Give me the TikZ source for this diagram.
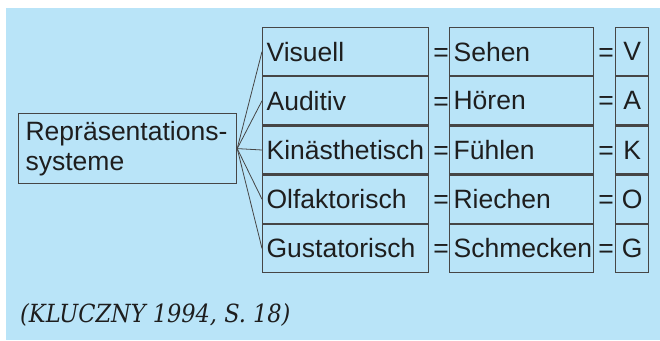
\documentclass[tikz,border=0pt]{standalone}
\usepackage{fontspec}
\setmainfont{Liberation Sans}
\newfontfamily\citefont{DejaVu Serif Condensed}
\usetikzlibrary{positioning}

\definecolor{bgblue}{RGB}{185,228,248}
\definecolor{boxline}{RGB}{70,70,70}
\definecolor{textdark}{RGB}{30,30,30}

\begin{document}
\begin{tikzpicture}[
    x=1pt, y=-1pt,
    every node/.style={font=\fontsize{26.5}{30}\selectfont, text=textdark},
    sysbox/.style={draw=boxline, line width=1.2pt, minimum width=166pt, minimum height=48pt, inner sep=4pt, text width=158pt, align=left},
    sinnbox/.style={draw=boxline, line width=1.2pt, minimum width=144pt, minimum height=48pt, inner sep=4pt, text width=136pt, align=left},
    kurzbox/.style={draw=boxline, line width=1.2pt, minimum width=33pt, minimum height=48pt, inner sep=0pt, align=center},
    eqsign/.style={inner sep=0pt, anchor=base west}
]

% Background
\useasboundingbox (0,0) rectangle (660,340);
\fill[bgblue] (6,8) rectangle (660,340);

% Root box
\node[draw=boxline, line width=1.2pt, anchor=north west, minimum width=218pt, minimum height=70pt,
      text width=204pt, inner sep=7pt, align=left] (rep) at (18,113) {Repräsentations-\\systeme};

% Column 1: systems
\node[sysbox, anchor=north west] (s1) at (262,27) {Visuell};
\node[sysbox, below=0pt of s1] (s2) {Auditiv};
\node[sysbox, below=0pt of s2] (s3) {Kinästhetisch};
\node[sysbox, below=0pt of s3] (s4) {Olfaktorisch};
\node[sysbox, below=0pt of s4] (s5) {Gustatorisch};

% Column 2: senses
\node[sinnbox, anchor=north west] (n1) at (449,27) {Sehen};
\node[sinnbox, below=0pt of n1] (n2) {Hören};
\node[sinnbox, below=0pt of n2] (n3) {Fühlen};
\node[sinnbox, below=0pt of n3] (n4) {Riechen};
\node[sinnbox, below=0pt of n4] (n5) {Schmecken};

% Column 3: letters
\node[kurzbox, anchor=north west] (k1) at (615,27) {V};
\node[kurzbox, below=0pt of k1] (k2) {A};
\node[kurzbox, below=0pt of k2] (k3) {K};
\node[kurzbox, below=0pt of k3] (k4) {O};
\node[kurzbox, below=0pt of k4] (k5) {G};

% Equal signs
\foreach \i in {1,...,5} {
    \node[eqsign] (ea\i) at ([xshift=4pt]s\i.base east) {=};
    \node[eqsign] (eb\i) at ([xshift=4pt]n\i.base east) {=};
}

% Fan lines
\foreach \i in {1,...,5}
    \draw[boxline, line width=0.8pt] (rep.east) -- (s\i.west);

% Source
\node[anchor=west, inner sep=0pt, font=\citefont\itshape\fontsize{25}{28}\selectfont] (quelle) at (20,315) {(KLUCZNY 1994, S. 18)};

\end{tikzpicture}
\end{document}
